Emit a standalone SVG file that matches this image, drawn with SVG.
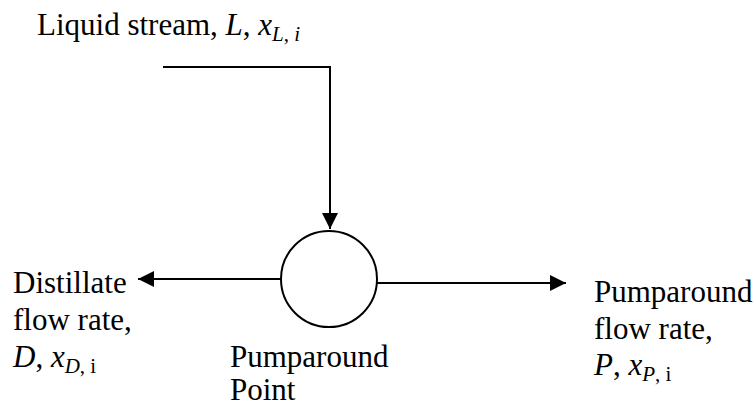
<svg xmlns="http://www.w3.org/2000/svg" width="754" height="407" viewBox="0 0 754 407">
<style>
text{font-family:'Liberation Serif','DejaVu Serif',serif;font-size:31px;fill:#000}
.i{font-style:italic}
.s{font-size:21px}
.ln{stroke:#000;stroke-width:2;fill:none}
</style>
<defs>
<marker id="ah" viewBox="0 0 16 16" refX="16" refY="8" markerWidth="16" markerHeight="16" markerUnits="userSpaceOnUse" orient="auto">
<path d="M0,0 L16,8 L0,16 Z" fill="#000"/>
</marker>
</defs>
<g id="connectors">
<polyline class="ln" points="163,67 330,67 330,229" marker-end="url(#ah)"/>
<line class="ln" x1="281" y1="279" x2="138" y2="279" marker-end="url(#ah)"/>
<line class="ln" x1="377" y1="283" x2="566" y2="283" marker-end="url(#ah)"/>
</g>
<g id="pumparound-point">
<circle cx="329" cy="279" r="48" fill="#fff" stroke="#000" stroke-width="2"/>
<text x="230" y="367">Pumparound</text>
<text x="230" y="400">Point</text>
</g>
<g id="liquid-stream">
<text x="37" y="35">Liquid stream, <tspan class="i">L</tspan>, <tspan class="i">x</tspan><tspan class="s i" dy="6">L</tspan><tspan class="s">, </tspan><tspan class="s i">i</tspan></text>
</g>
<g id="distillate">
<text x="13" y="293">Distillate</text>
<text x="13" y="330">flow rate,</text>
<text x="13" y="367"><tspan class="i">D</tspan>, <tspan class="i">x</tspan><tspan class="s i" dy="6">D</tspan><tspan class="s">, i</tspan></text>
</g>
<g id="pumparound-flow">
<text x="594" y="302">Pumparound</text>
<text x="594" y="339">flow rate,</text>
<text x="594" y="375"><tspan class="i">P</tspan>, <tspan class="i">x</tspan><tspan class="s i" dy="6">P</tspan><tspan class="s">, i</tspan></text>
</g>
</svg>
